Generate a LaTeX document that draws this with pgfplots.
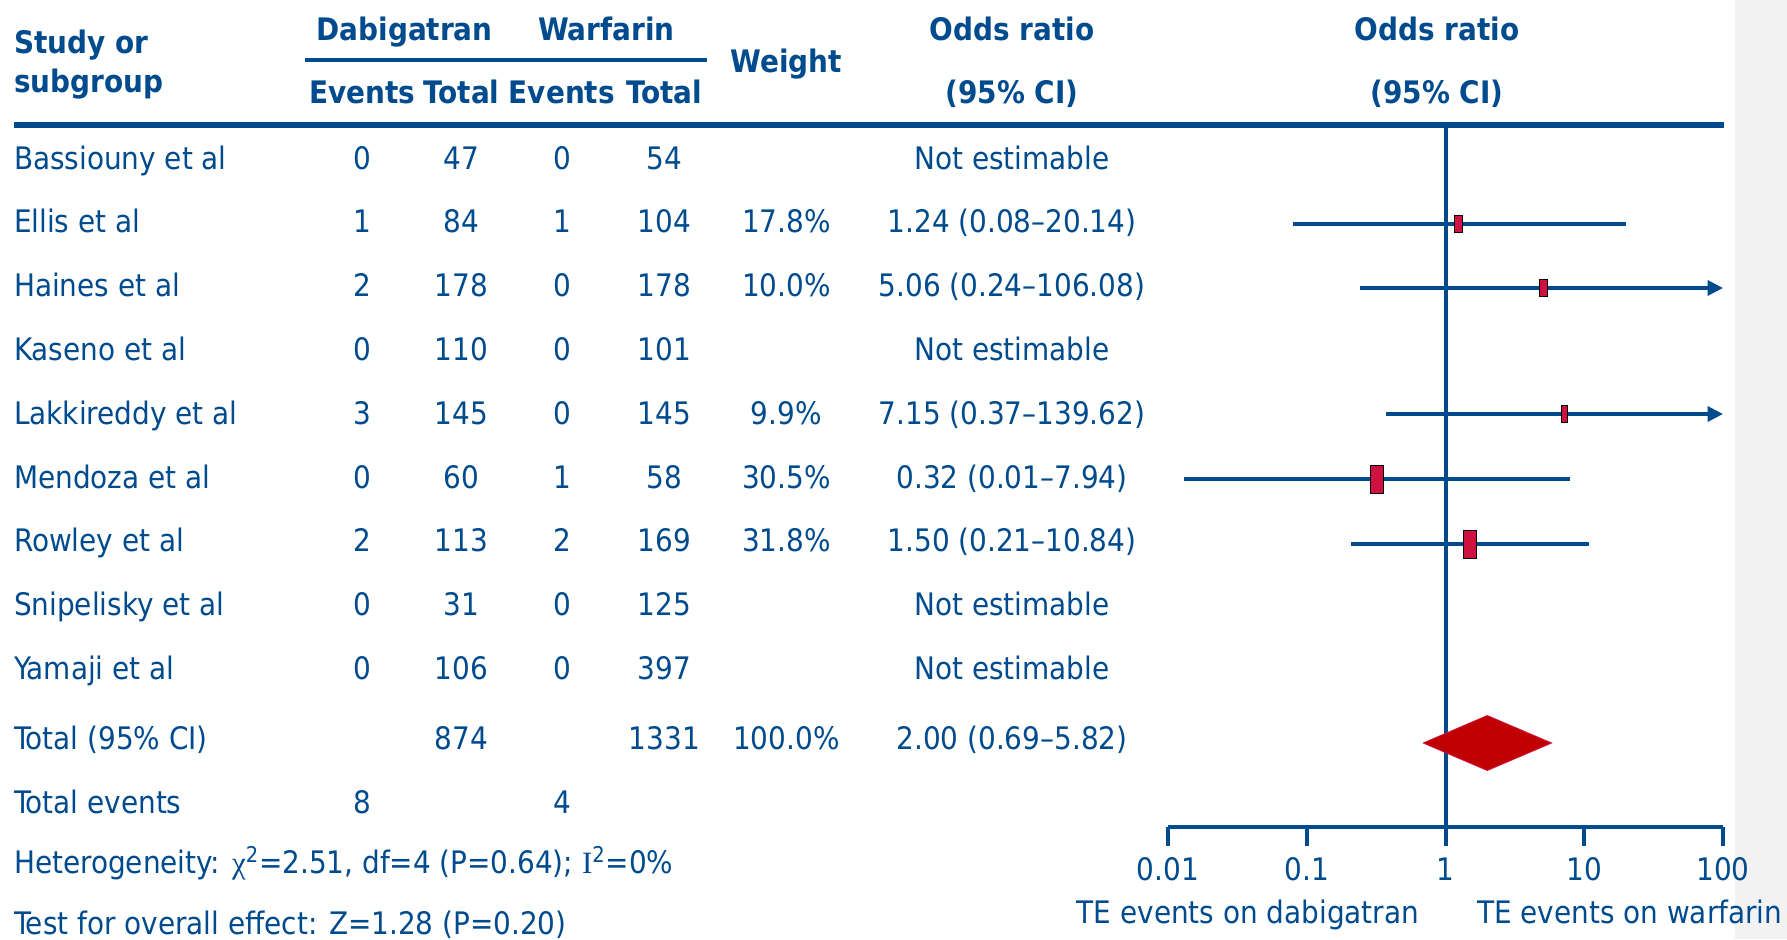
\documentclass[border=0pt]{standalone}
\usepackage{pgfplots}
\pgfplotsset{compat=1.18}
\usepackage{fontspec}
\setmainfont{DejaVu Sans Condensed}
\newfontfamily\symfont{Liberation Serif}
\usetikzlibrary{arrows.meta}

\definecolor{nblue}{RGB}{0,75,141}
\definecolor{sqred}{RGB}{208,18,66}
\definecolor{dmred}{RGB}{192,0,0}
\definecolor{strip}{RGB}{242,242,242}

\newcommand\tfont{\fontsize{15.5}{18}\selectfont}

\begin{document}
\begin{tikzpicture}[font=\tfont, text=nblue]
\path[use as bounding box] (0,0) rectangle (893.5pt,-469.5pt);
\fill[white] (0,0) rectangle (893.5pt,-469.5pt);
\fill[strip] (867.5pt,0) rectangle (893.5pt,-469.5pt);

\begin{scope}[x=0.5pt, y=-0.5pt, every node/.style={inner sep=0pt}]
  % header
  \node[anchor=base west, font=\tfont\bfseries] at (13.7,53.5) {Study or};
  \node[anchor=base west, font=\tfont\bfseries] at (13.7,92.5) {subgroup};
  \node[anchor=base, font=\tfont\bfseries] at (404.6,40) {Dabigatran};
  \node[anchor=base, font=\tfont\bfseries] at (606.3,40) {Warfarin};
  \draw[nblue, line width=2.1pt] (305.4,60) -- (706.6,60);
  \node[anchor=base, font=\tfont\bfseries] at (362.4,103) {Events};
  \node[anchor=base, font=\tfont\bfseries] at (461.6,103) {Total};
  \node[anchor=base, font=\tfont\bfseries] at (561.9,103) {Events};
  \node[anchor=base, font=\tfont\bfseries] at (664.4,103) {Total};
  \node[anchor=base, font=\tfont\bfseries] at (786.4,72.7) {Weight};
  \node[anchor=base, font=\tfont\bfseries] at (1012,40) {Odds ratio};
  \node[anchor=base, font=\tfont\bfseries] at (1012,103) {(95\% CI)};
  \node[anchor=base, font=\tfont\bfseries] at (1437,40) {Odds ratio};
  \node[anchor=base, font=\tfont\bfseries] at (1437,103) {(95\% CI)};
  \draw[nblue, line width=2.6pt] (13.7,125) -- (1724.4,125);

  % study rows
  \foreach \yb/\name/\ea/\ta/\eb/\tb/\wt/\ort in {
      169.0/Bassiouny et al/0/47/0/54//Not estimable,
      232.8/Ellis et al/1/84/1/104/17.8\%/1.24 (0.08–20.14),
      296.6/Haines et al/2/178/0/178/10.0\%/5.06 (0.24–106.08),
      360.4/Kaseno et al/0/110/0/101//Not estimable,
      424.2/Lakkireddy et al/3/145/0/145/9.9\%/7.15 (0.37–139.62),
      488.0/Mendoza et al/0/60/1/58/30.5\%/0.32 (0.01–7.94),
      551.8/Rowley et al/2/113/2/169/31.8\%/1.50 (0.21–10.84),
      615.6/Snipelisky et al/0/31/0/125//Not estimable,
      679.4/Yamaji et al/0/106/0/397//Not estimable,
      749.8/Total (95\% CI)//874//1331/100.0\%/2.00 (0.69–5.82),
      813.6/Total events/8//4///}{
    \node[anchor=base west] at (13.7,\yb) {\name};
    \node[anchor=base] at (362.4,\yb) {\ea};
    \node[anchor=base] at (461.6,\yb) {\ta};
    \node[anchor=base] at (561.9,\yb) {\eb};
    \node[anchor=base] at (664.4,\yb) {\tb};
    \node[anchor=base] at (786.4,\yb) {\wt};
    \node[anchor=base] at (1012,\yb) {\ort};
  }
  \node[anchor=base west] at (13.7,873) {Heterogeneity: {\symfont χ}\textsuperscript{2}=2.51, df=4 (P=0.64); {\symfont I}\textsuperscript{2}=0\%};
  \node[anchor=base west] at (13.7,934) {Test for overall effect: Z=1.28 (P=0.20)};

  % scale captions
  \node[anchor=base] at (1248,923) {TE events on dabigatran};
  \node[anchor=base] at (1629.8,923) {TE events on warfarin};
\end{scope}

\begin{axis}[
  at={(584pt,-413.5pt)}, anchor=south west,
  scale only axis, width=277.5pt, height=351.5pt,
  xmode=log, xmin=0.01, xmax=100, ymin=-827, ymax=-124,
  axis x line*=bottom, axis y line=none,
  axis line style={line width=2pt, nblue},
  xtick={0.01,0.1,1,10,100}, xticklabels={0.01,0.1,1,10,100},
  xminorticks=false,
  tick align=outside, major tick length=9.5pt,
  every tick/.style={line width=2pt, nblue},
  xticklabel shift=0pt,
  xticklabel style={font=\tfont, text=nblue, anchor=base, inner sep=0pt, yshift=-17pt},
  clip=false,
]
  % line of no effect
  \addplot[nblue, line width=2pt] coordinates {(1,-124) (1,-827)};

  % confidence intervals
  \addplot[nblue, line width=1.7pt] coordinates {(0.08,-224) (20.14,-224)};
  \addplot[nblue, line width=1.7pt, -{Triangle[length=7.7pt,width=7.5pt]}] coordinates {(0.24,-288) (100,-288)};
  \addplot[nblue, line width=1.7pt, -{Triangle[length=7.7pt,width=7.5pt]}] coordinates {(0.37,-414) (100,-414)};
  \addplot[nblue, line width=1.7pt] coordinates {(0.013,-479) (7.94,-479)};
  \addplot[nblue, line width=1.7pt] coordinates {(0.21,-544) (10.84,-544)};

  % point estimates, sized by weight
  \addplot[only marks, mark=square*, mark size=1pt, mark options={fill=sqred, draw=none, xscale=2, yscale=4.25}] coordinates {(1.24,-224)};
  \addplot[only marks, mark=square*, mark size=1pt, mark options={fill=sqred, draw=none, xscale=2, yscale=4.25}] coordinates {(5.06,-288)};
  \addplot[only marks, mark=square*, mark size=1pt, mark options={fill=sqred, draw=none, xscale=1.5, yscale=4.25}] coordinates {(7.15,-414)};
  \addplot[only marks, mark=square*, mark size=1pt, mark options={fill=sqred, draw=none, xscale=3.1, yscale=7}] coordinates {(0.32,-479)};
  \addplot[only marks, mark=square*, mark size=1pt, mark options={fill=sqred, draw=none, xscale=3.1, yscale=7}] coordinates {(1.50,-544)};

  % pooled estimate
  \addplot[fill=dmred, draw=sqred, line width=0.4pt] coordinates {(0.69,-743) (2.00,-715.5) (5.82,-743) (2.00,-770.5) (0.69,-743)};
\end{axis}
\end{tikzpicture}
\end{document}
